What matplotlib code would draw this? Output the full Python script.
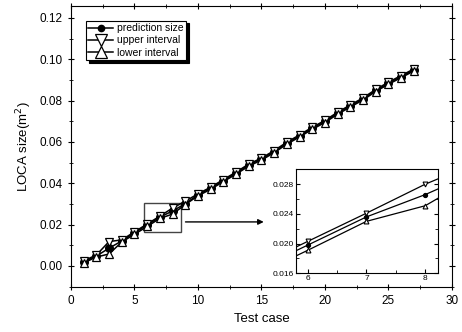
import matplotlib
matplotlib.use("Agg")
import matplotlib.pyplot as plt
from matplotlib.ticker import MultipleLocator, FormatStrFormatter
from matplotlib.patches import Rectangle

plt.rcParams['font.family'] = ['Liberation Sans', 'DejaVu Sans']

# data
test_case = list(range(1, 28))
pred_size = [0.0020, 0.0048, 0.0086, 0.0121, 0.0160, 0.0198, 0.0236, 0.0266, 0.0301,
             0.0344, 0.0376, 0.0413, 0.0449, 0.0488, 0.0517, 0.0553, 0.0594, 0.0629,
             0.0666, 0.0699, 0.0739, 0.0774, 0.0808, 0.0849, 0.0884, 0.0916, 0.0948]
upper_size = [0.0025, 0.0053, 0.0118, 0.0126, 0.0165, 0.0203, 0.0241, 0.0280, 0.0313,
              0.0349, 0.0381, 0.0418, 0.0454, 0.0493, 0.0522, 0.0558, 0.0599, 0.0634,
              0.0671, 0.0704, 0.0744, 0.0779, 0.0813, 0.0854, 0.0889, 0.0921, 0.0953]
lower_size = [0.0015, 0.0043, 0.0058, 0.0116, 0.0153, 0.0191, 0.0230, 0.0251, 0.0297,
              0.0339, 0.0371, 0.0408, 0.0444, 0.0483, 0.0512, 0.0548, 0.0589, 0.0624,
              0.0661, 0.0694, 0.0734, 0.0769, 0.0803, 0.0844, 0.0879, 0.0911, 0.0943]

fig = plt.figure(figsize=(4.62, 3.32), dpi=100)
ax = fig.add_axes([0.1537, 0.1355, 0.8243, 0.8465])

def draw_series(a, ms_c, ms_t, lw, mew):
    a.plot(test_case, pred_size, '-', color='black', lw=lw, marker='o', ms=ms_c,
           mfc='black', mec='black', label='prediction size')
    a.plot(test_case, upper_size, '-', color='black', lw=lw, marker='v', ms=ms_t,
           mfc='white', mec='black', mew=mew, label='upper interval')
    a.plot(test_case, lower_size, '-', color='black', lw=lw, marker='^', ms=ms_t,
           mfc='white', mec='black', mew=mew, label='lower interval')

draw_series(ax, 5.5, 6, 1.1, 0.9)
ax.set_xlim(0, 30)
ax.set_ylim(-0.0102, 0.1258)
ax.xaxis.set_major_locator(MultipleLocator(5))
ax.xaxis.set_minor_locator(MultipleLocator(2.5))
ax.yaxis.set_major_locator(MultipleLocator(0.02))
ax.yaxis.set_minor_locator(MultipleLocator(0.01))
ax.yaxis.set_major_formatter(FormatStrFormatter('%.2f'))
ax.tick_params(which='both', direction='inout', top=True, right=True, labelsize=8.5)
ax.tick_params(which='major', length=5)
ax.tick_params(which='minor', length=3)
ax.set_xlabel('Test case', fontsize=9.5)
ax.set_ylabel('LOCA size(m$^2$)', fontsize=9.5)

leg = ax.legend(loc='upper left', bbox_to_anchor=(0.039, 0.948), borderaxespad=0,
                fontsize=7.5, frameon=True, fancybox=False, edgecolor='black',
                handlelength=2.4, handletextpad=0.3, borderpad=0.25, labelspacing=0.22,
                shadow={'color': 'black', 'alpha': 1})
leg.get_frame().set_linewidth(0.8)
hs = leg.legend_handles
hs[0].set_markersize(4.5)
hs[1].set_markersize(8.5)
hs[2].set_markersize(8.5)

# zoom box and arrow
ax.add_patch(Rectangle((5.75, 0.0163), 2.95, 0.0140, fill=False, ec='#444444', lw=1))
ax.annotate('', xy=(15.4, 0.0213), xytext=(8.8, 0.0213),
            arrowprops=dict(arrowstyle='-|>', color='black', lw=1, mutation_scale=8))

# inset
ins = fig.add_axes([0.6407, 0.1768, 0.307, 0.313])
draw_series(ins, 2.8, 3.5, 0.9, 0.8)
ins.set_xlim(5.8, 8.216)
ins.set_ylim(0.016, 0.030)
ins.xaxis.set_major_locator(MultipleLocator(1))
ins.xaxis.set_minor_locator(MultipleLocator(0.5))
ins.yaxis.set_major_locator(MultipleLocator(0.004))
ins.yaxis.set_minor_locator(MultipleLocator(0.002))
ins.yaxis.set_major_formatter(FormatStrFormatter('%.3f'))
ins.tick_params(which='both', direction='in', right=True, labelsize=6, pad=1.5)
ins.tick_params(which='major', length=3)
ins.tick_params(which='minor', length=2)

fig.savefig('out.png', dpi=100)
